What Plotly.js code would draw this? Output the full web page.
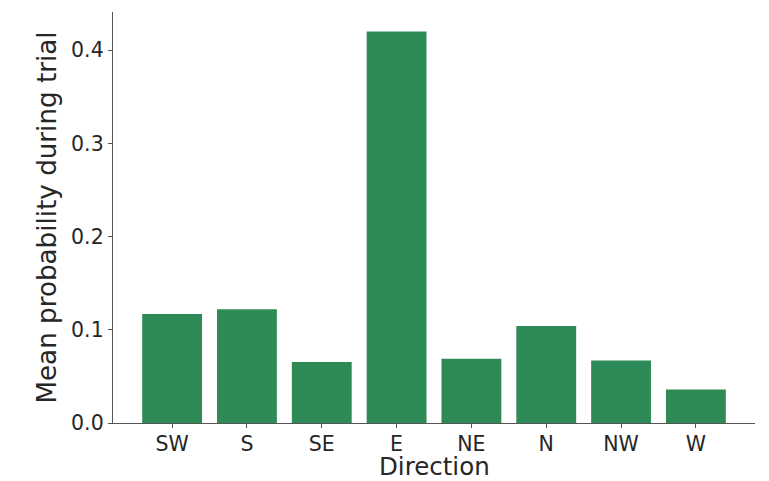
<!DOCTYPE html>
<html>
<head>
<meta charset="utf-8">
<script src="https://cdn.plot.ly/plotly-3.0.1.min.js"></script>
<style>
  html, body { margin: 0; padding: 0; background: #fff; }
  #chart { width: 769px; height: 481px; }
</style>
</head>
<body>
<div id="chart"></div>
<script>
// Mean probability per movement direction during a trial
const directions = ["SW", "S", "SE", "E", "NE", "N", "NW", "W"];
const meanProbability = [0.117, 0.122, 0.0655, 0.420, 0.069, 0.104, 0.067, 0.036];
const yTicks = [0.0, 0.1, 0.2, 0.3, 0.4];
const yTickLabels = ["0.0", "0.1", "0.2", "0.3", "0.4"];

const font = "DejaVu Sans, sans-serif";

const trace = {
  type: "bar",
  x: directions,
  y: meanProbability,
  width: 0.8,
  marker: { color: "#2e8b57", line: { width: 0 } },
  hoverinfo: "x+y"
};

const layout = {
  width: 769,
  height: 481,
  margin: { l: 113, r: 14, t: 12, b: 58 },
  paper_bgcolor: "#ffffff",
  plot_bgcolor: "#ffffff",
  showlegend: false,
  font: { family: font, color: "#262626" },
  xaxis: {
    type: "category",
    range: [-0.79, 7.79],
    showgrid: false,
    zeroline: false,
    showline: true,
    linecolor: "#555555",
    linewidth: 1.2,
    ticks: "outside",
    ticklen: 4,
    tickwidth: 1,
    tickcolor: "#555555",
    ticklabelstandoff: -2,
    tickfont: { family: font, size: 20.5, color: "#262626" },
    automargin: false
  },
  yaxis: {
    range: [0, 0.441],
    tickvals: yTicks,
    ticktext: yTickLabels,
    showgrid: false,
    zeroline: false,
    showline: true,
    linecolor: "#555555",
    linewidth: 1.2,
    ticks: "outside",
    ticklen: 4,
    tickwidth: 1,
    tickcolor: "#555555",
    tickfont: { family: font, size: 20.5, color: "#262626" },
    title: { text: "Mean probability during trial", font: { family: font, size: 26.2, color: "#262626" }, standoff: 7 },
    automargin: false
  },
  // x-axis title placed just under the category labels
  annotations: [{
    text: "Direction",
    xref: "paper", yref: "paper",
    x: 0.5, y: -0.106,
    xanchor: "center", yanchor: "middle",
    borderpad: 0,
    showarrow: false,
    font: { family: font, size: 24.5, color: "#262626" }
  }],
  bargap: 0.2
};

Plotly.newPlot("chart", [trace], layout, { staticPlot: true, displayModeBar: false });
</script>
</body>
</html>
